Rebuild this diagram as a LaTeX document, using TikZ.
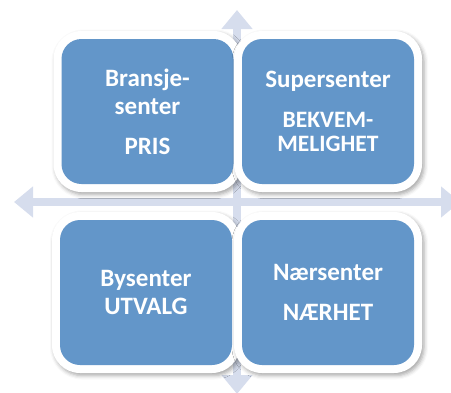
\documentclass[tikz,border=0pt]{standalone}
\usepackage{fontspec}
\setmainfont{Carlito}
\usepackage{tikz}
\usetikzlibrary{arrows.meta,positioning,shadows.blur}
\definecolor{boxblue}{RGB}{99,150,201}
\definecolor{axislilac}{RGB}{214,221,237}

\begin{document}
\begin{tikzpicture}[
    x=1pt, y=-1pt,
    quadrant/.style={rectangle, fill=white, rounded corners=28pt,
        minimum width=188pt, minimum height=161pt,
        blur shadow={shadow xshift=2pt, shadow yshift=-2.5pt, shadow blur radius=4pt, shadow opacity=35},
        path picture={\fill[boxblue, rounded corners=20pt]
            ([shift={(8pt,8pt)}]path picture bounding box.south west) rectangle
            ([shift={(-8pt,-8pt)}]path picture bounding box.north east);},
        text=white, font=\fontsize{25}{28}\selectfont\bfseries, align=center},
    axis arrow/.style={draw=axislilac, line width=8pt,
        {Triangle[length=19pt,width=30pt]}-{Triangle[length=19pt,width=30pt]}}
]
    \useasboundingbox (0,0) rectangle (451,392);

    % Axes
    \coordinate (west) at (14,202);
    \coordinate (east) at (460,202);
    \coordinate (north) at (237,10);
    \coordinate (south) at (237,394);
    \draw[axis arrow] (west) -- (east);
    \draw[axis arrow] (north) -- (south);

    % Quadrants
    \node[quadrant] (bransje) at (147.5,111.5) {Bransje-\\senter\\[12pt]PRIS};
    \node[quadrant] (super) at (328,111.5)
        {Supersenter\\[12pt]{\fontsize{23.5}{28}\selectfont BEKVEM-}\\[-3.5pt]{\fontsize{23.5}{28}\selectfont MELIGHET}};
    \node[quadrant] (by) at (146,292.5) {Bysenter\\UTVALG};
    \node[quadrant] (naer) at (328,292.5) {Nærsenter\\[12pt]NÆRHET};
\end{tikzpicture}
\end{document}
